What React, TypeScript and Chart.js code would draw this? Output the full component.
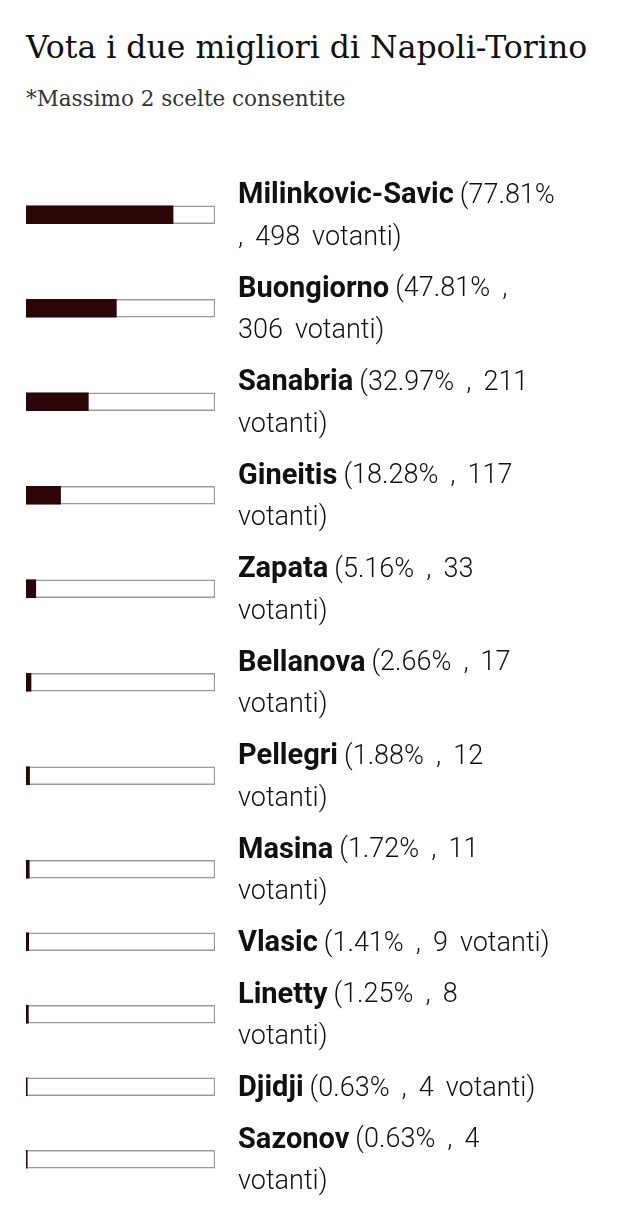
import React, { useEffect, useRef } from "react";
import { Chart, registerables } from "chart.js";

Chart.register(...registerables);

const TITLE = "Vota i due migliori di Napoli-Torino";
const SUBTITLE = "*Massimo 2 scelte consentite";

const names = [
  "Milinkovic-Savic",
  "Buongiorno",
  "Sanabria",
  "Gineitis",
  "Zapata",
  "Bellanova",
  "Pellegri",
  "Masina",
  "Vlasic",
  "Linetty",
  "Djidji",
  "Sazonov",
];
const percents = [77.81, 47.81, 32.97, 18.28, 5.16, 2.66, 1.88, 1.72, 1.41, 1.25, 0.63, 0.63];
const votes = [498, 306, 211, 117, 33, 17, 12, 11, 9, 8, 4, 4];

const CANVAS_W = 604;
const PAD_LEFT = 18;
const PAD_RIGHT = 397;
const TEXT_GAP = 23;
const TEXT_MAX_W = 319;
const TEXT_DY = 2;
const LINE_H = 42;
const ROW_GAP = 9.5;
const NAME_GAP = 6;
const SPACE_W = 12;
const FONT_FAMILY = "Roboto, 'Noto Sans', sans-serif";
const BOLD_FONT = `700 29px ${FONT_FAMILY}`;
const REG_FONT = `300 27px ${FONT_FAMILY}`;
const FILL_COLOR = "#2c0606";
const TRACK_BORDER = "#9a9a9a";
const TEXT_COLOR = "#111111";
const SERIF = "'DejaVu Serif', 'Liberation Serif', serif";

type Seg = { text: string; bold: boolean };
type Line = Seg[];

function gapBefore(prev: Seg): number {
  return prev.bold ? NAME_GAP : SPACE_W;
}

function wrapRow(ctx: CanvasRenderingContext2D, i: number): Line[] {
  const tokens: Seg[] = [{ text: names[i], bold: true }];
  const rest = `(${percents[i].toFixed(2)}% , ${votes[i]} votanti)`;
  rest.split(" ").forEach((w) => tokens.push({ text: w, bold: false }));
  const lines: Line[] = [];
  let cur: Line = [];
  let curW = 0;
  tokens.forEach((tk) => {
    ctx.font = tk.bold ? BOLD_FONT : REG_FONT;
    const w = ctx.measureText(tk.text).width;
    const add = cur.length ? gapBefore(cur[cur.length - 1]) + w : w;
    if (cur.length && curW + add > TEXT_MAX_W) {
      lines.push(cur);
      cur = [tk];
      curW = w;
    } else {
      cur.push(tk);
      curW += add;
    }
  });
  if (cur.length) lines.push(cur);
  return lines;
}

export default function App() {
  const ref = useRef<HTMLCanvasElement | null>(null);

  useEffect(() => {
    const canvas = ref.current;
    if (!canvas) return;
    const mctx = document.createElement("canvas").getContext("2d")!;
    const wrapped = names.map((_, i) => wrapRow(mctx, i));
    const heights = wrapped.map((l) => l.length * LINE_H + ROW_GAP);
    const total = heights.reduce((a, b) => a + b, 0);
    const centers: number[] = [];
    let acc = 0;
    heights.forEach((h) => {
      centers.push(acc + h / 2);
      acc += h;
    });
    const H = Math.ceil(total);
    canvas.width = CANVAS_W;
    canvas.height = H;
    canvas.style.width = CANVAS_W + "px";
    canvas.style.height = H + "px";

    const textPlugin = {
      id: "rowText",
      afterDatasetsDraw(chart: any) {
        const ctx = chart.ctx as CanvasRenderingContext2D;
        const meta = chart.getDatasetMeta(1);
        const x0 = chart.chartArea.right + TEXT_GAP;
        ctx.save();
        ctx.fillStyle = TEXT_COLOR;
        ctx.textBaseline = "middle";
        ctx.textAlign = "left";
        wrapped.forEach((lines, i) => {
          const cy = meta.data[i].y + TEXT_DY;
          const y0 = cy - ((lines.length - 1) * LINE_H) / 2;
          lines.forEach((line, li) => {
            let x = x0;
            line.forEach((seg, si) => {
              if (si > 0) x += gapBefore(line[si - 1]);
              ctx.font = seg.bold ? BOLD_FONT : REG_FONT;
              ctx.fillText(seg.text, x, y0 + li * LINE_H);
              x += ctx.measureText(seg.text).width;
            });
          });
        });
        ctx.restore();
      },
    };

    const chart = new Chart(canvas, {
      type: "bar",
      data: {
        datasets: [
          {
            label: "Voti",
            data: percents.map((p, i) => ({ x: p, y: centers[i] })),
            backgroundColor: FILL_COLOR,
            borderWidth: 0,
            barThickness: 18,
            order: 0,
          },
          {
            label: "Totale",
            data: percents.map((_, i) => ({ x: 100, y: centers[i] })),
            backgroundColor: "#ffffff",
            borderColor: TRACK_BORDER,
            borderWidth: 1.5,
            borderSkipped: false,
            barThickness: 18,
            order: 1,
          },
        ],
      },
      options: {
        indexAxis: "y",
        responsive: false,
        animation: false,
        devicePixelRatio: 1,
        layout: { padding: { left: PAD_LEFT, right: PAD_RIGHT, top: 0, bottom: 0 } },
        datasets: { bar: { grouped: false } },
        scales: {
          x: { type: "linear", min: 0, max: 100, display: false, offset: false },
          y: { type: "linear", min: 0, max: total, reverse: true, display: false, offset: false },
        },
        plugins: { legend: { display: false }, tooltip: { enabled: false }, title: { display: false } },
      } as any,
      plugins: [textPlugin],
    });
    return () => chart.destroy();
  }, []);

  return (
    <div style={{ background: "#fff", display: "flow-root" }}>
      <div
        style={{
          fontFamily: SERIF,
          fontSize: 31.5,
          lineHeight: "40px",
          color: "#111",
          marginTop: 19,
          paddingLeft: 18,
          whiteSpace: "nowrap",
        }}
      >
        {TITLE}
      </div>
      <div
        style={{
          fontFamily: SERIF,
          fontSize: 21.5,
          lineHeight: "28px",
          color: "#333",
          marginTop: 18,
          paddingLeft: 18,
        }}
      >
        {SUBTITLE}
      </div>
      <canvas ref={ref} style={{ display: "block", marginTop: 55 }} />
    </div>
  );
}
